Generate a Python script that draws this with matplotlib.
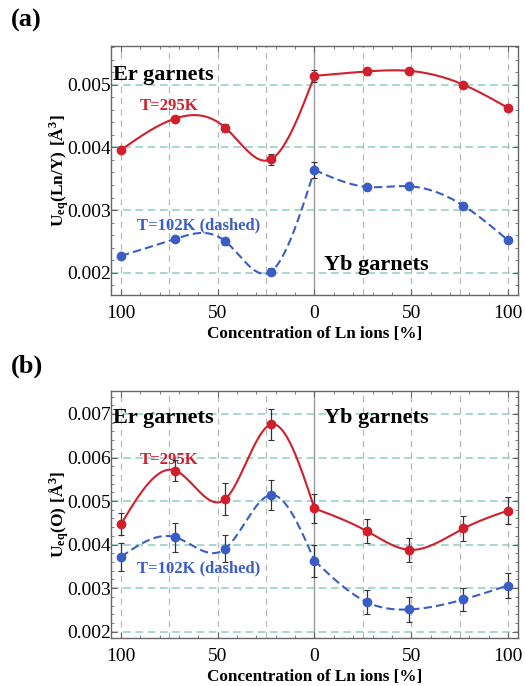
import numpy as np
import matplotlib
matplotlib.use('Agg')
import matplotlib.pyplot as plt
from matplotlib.ticker import MultipleLocator, FixedLocator, FixedFormatter

plt.rcParams['font.family'] = ['Liberation Serif', 'DejaVu Serif']
plt.rcParams['mathtext.fontset'] = 'custom'
plt.rcParams['mathtext.rm'] = 'Liberation Serif'
plt.rcParams['mathtext.bf'] = 'Liberation Serif:bold'

# concentration of Ln ions [%]; Er side is drawn to the left of 0, Yb side to the right
er_conc = [100, 72, 46, 22.5, 0]
yb_conc = [27, 49, 77, 100]
x_pos = [-c for c in er_conc] + yb_conc
tick_pos = [-100, -50, 0, 50, 100]
tick_labels = ['100', '50', '0', '50', '100']

# (a) Ueq(Ln/Y)
a_295 = [0.00396, 0.00446, 0.00431, 0.00381, 0.00514, 0.00521, 0.00522, 0.00500, 0.00463]
a_295_err = [0.00004, 0.00004, 0.00007, 0.00009, 0.00010, 0.00006, 0.00005, 0.00003, 0.00004]
a_102 = [0.00227, 0.00254, 0.00250, 0.00202, 0.00364, 0.00337, 0.00338, 0.00307, 0.00252]
a_102_err = [0.00003, 0.00004, 0.00005, 0.00006, 0.00013, 0.00005, 0.00004, 0.00003, 0.00003]

# (b) Ueq(O)
b_295 = [0.00447, 0.00570, 0.00505, 0.00676, 0.00483, 0.00431, 0.00388, 0.00437, 0.00478]
b_295_err = [0.00025, 0.00024, 0.00037, 0.00036, 0.00034, 0.00027, 0.00028, 0.00028, 0.00031]
b_102 = [0.00372, 0.00417, 0.00391, 0.00514, 0.00363, 0.00268, 0.00251, 0.00274, 0.00306]
b_102_err = [0.00032, 0.00033, 0.00031, 0.00034, 0.00037, 0.00028, 0.00029, 0.00027, 0.00029]

red = '#d11f2c'
blue = '#3a5ec4'


def natural_spline(x, y, n=200):
    # smooth curve through the measured points (natural cubic spline)
    x = np.asarray(x, float)
    y = np.asarray(y, float)
    m = len(x)
    h = np.diff(x)
    A = np.zeros((m, m))
    b = np.zeros(m)
    A[0, 0] = A[-1, -1] = 1
    for i in range(1, m - 1):
        A[i, i - 1] = h[i - 1]
        A[i, i] = 2 * (h[i - 1] + h[i])
        A[i, i + 1] = h[i]
        b[i] = 3 * ((y[i + 1] - y[i]) / h[i] - (y[i] - y[i - 1]) / h[i - 1])
    c = np.linalg.solve(A, b)
    bc = (y[1:] - y[:-1]) / h - h * (2 * c[:-1] + c[1:]) / 3
    dc = (c[1:] - c[:-1]) / (3 * h)
    xs = np.linspace(x[0], x[-1], n)
    idx = np.clip(np.searchsorted(x, xs) - 1, 0, m - 2)
    dx = xs - x[idx]
    ys = y[idx] + bc[idx] * dx + c[idx] * dx ** 2 + dc[idx] * dx ** 3
    return xs, ys


def draw_series(ax, y, yerr, color, ls):
    n_er = len(er_conc)
    # Er side and Yb side are separate curves meeting at 0
    for sl in (slice(0, n_er), slice(n_er - 1, None)):
        xs, ys = natural_spline(x_pos[sl], y[sl])
        ax.plot(xs, ys, color=color, ls=ls, lw=1.5, zorder=3,
                dashes=(4, 2) if ls == '--' else (None, None))
    ax.errorbar(x_pos, y, yerr=yerr, fmt='none', ecolor='#333333', elinewidth=0.9,
                capsize=2, capthick=0.8, zorder=4)
    ax.plot(x_pos, y, 'o', color=color, ms=6, zorder=5)


def setup_axes(ax, ylim, ylabel):
    ax.set_xlim(-105.2, 105.2)
    ax.set_ylim(*ylim)
    # grid lines: grey vertical every 25 %, teal horizontal at labelled values
    for gx in [-100, -75, -50, -25, 25, 50, 75, 100]:
        ax.axvline(gx, color='#b8b8b8', ls=(0, (5, 4)), lw=0.9, zorder=1)
    ax.axvline(0, color='#9a9a9a', lw=1.0, zorder=1)
    for gy in np.arange(0.002, ylim[1], 0.001):
        ax.axhline(gy, color='#8fcbc4', ls=(0, (5, 3)), lw=1.1, zorder=1)
    ax.xaxis.set_major_locator(FixedLocator(tick_pos))
    ax.xaxis.set_major_formatter(FixedFormatter(tick_labels))
    ax.xaxis.set_minor_locator(MultipleLocator(10))
    ax.yaxis.set_major_locator(MultipleLocator(0.001))
    ax.yaxis.set_minor_locator(MultipleLocator(0.0002))
    ax.yaxis.set_major_formatter(plt.FuncFormatter(lambda v, p: '%.3f' % v))
    ax.tick_params(which='both', direction='in', top=True, right=True,
                   color='#666666', labelsize=14)
    ax.tick_params(which='major', length=4, width=0.8)
    ax.tick_params(which='minor', length=2.5, width=0.6)
    ax.tick_params(axis='y', pad=0)
    ax.tick_params(axis='x', pad=7)
    for sp in ax.spines.values():
        sp.set_color('#666666')
        sp.set_linewidth(1.0)
    ax.set_xlabel('Concentration of Ln ions [%]', fontsize=12.3, fontweight='bold', labelpad=3)
    ax.set_ylabel(ylabel, fontsize=12.5, labelpad=-3)


fig = plt.figure(figsize=(5.25, 6.86), dpi=100)
ax1 = fig.add_axes([0.2114, 0.570, 0.7752, 0.363])
ax2 = fig.add_axes([0.2114, 0.0695, 0.7752, 0.361])

# panel (a)
setup_axes(ax1, (0.001646, 0.005617), r'$\mathbf{U_{eq}(Ln/Y)\ [Å^{3}]}$')
draw_series(ax1, a_295, a_295_err, red, '-')
draw_series(ax1, a_102, a_102_err, blue, '--')
ax1.text(-104, 0.00515, 'Er garnets', fontsize=16, fontweight='bold', va='center')
ax1.text(5, 0.00212, 'Yb garnets', fontsize=16, fontweight='bold', va='center')
ax1.text(-75, 0.00466, 'T=295K', color=red, fontsize=12, fontweight='bold', ha='center', va='center')
ax1.text(-60, 0.00276, 'T=102K (dashed)', color=blue, fontsize=12, fontweight='bold', ha='center', va='center')
fig.text(0.02, 1 - 20 / 686, '(a)', fontsize=19, fontweight='bold', va='center')

# panel (b)
setup_axes(ax2, (0.001847, 0.007535), r'$\mathbf{U_{eq}(O)\ [Å^{3}]}$')
draw_series(ax2, b_295, b_295_err, red, '-')
draw_series(ax2, b_102, b_102_err, blue, '--')
ax2.text(-104, 0.00691, 'Er garnets', fontsize=16, fontweight='bold', va='center')
ax2.text(5, 0.00691, 'Yb garnets', fontsize=16, fontweight='bold', va='center')
ax2.text(-75, 0.00594, 'T=295K', color=red, fontsize=12, fontweight='bold', ha='center', va='center')
ax2.text(-60, 0.00346, 'T=102K (dashed)', color=blue, fontsize=12, fontweight='bold', ha='center', va='center')
fig.text(0.02, 1 - 366 / 686, '(b)', fontsize=19, fontweight='bold', va='center')

fig.savefig('out.png', dpi=100)
